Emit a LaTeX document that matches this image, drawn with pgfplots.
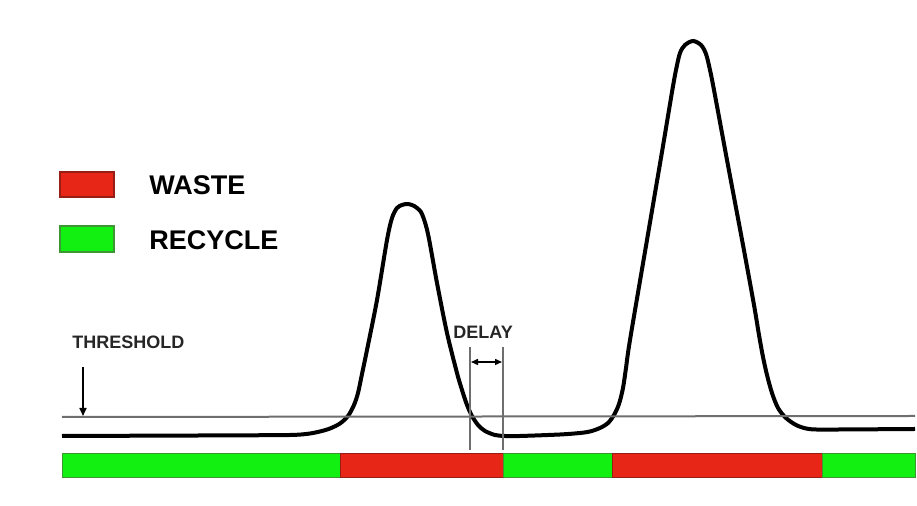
\documentclass[border=0pt]{standalone}
\usepackage{pgfplots}
\pgfplotsset{compat=1.18}
\usepackage{fontspec}
\setmainfont{Liberation Sans}
\usetikzlibrary{arrows.meta}
\definecolor{wastered}{RGB}{232,38,24}
\definecolor{wasteedge}{RGB}{150,30,20}
\definecolor{recgreen}{RGB}{18,240,18}
\definecolor{recedge}{RGB}{60,150,50}
\definecolor{thr}{RGB}{110,110,110}
\begin{document}
\begin{tikzpicture}
\begin{axis}[
  scale only axis,
  width=458.5pt, height=253pt,
  xmin=0, xmax=917, ymin=0, ymax=506,
  y dir=reverse,
  hide axis,
  clip=false,
]
% keep the full frame as bounding box
\path (rel axis cs:0,0) rectangle (rel axis cs:1,1);

% detector signal
\addplot[line width=2pt, smooth, tension=0.5] coordinates {
  (62,436) (200,435.5) (270,435.2) (290,435) (300,434.6) (310,433.5)
  (320,431.5) (330,428.5) (340,423.5) (348,416) (354,405) (358,393)
  (362,374) (367,350) (377,300) (387,240) (392,218) (397,208) (402,205)
  (407,204) (412,205) (417,208) (422,214) (428,234) (437,283) (447,333)
  (457,373) (462,390) (467,405) (472,416) (478,425) (485,431) (495,435)
  (505,436) (520,436) (560,434.5) (580,433) (590,431.5) (600,428)
  (608,423) (614,415) (619,404) (623,388) (626,368) (630,340) (647,240)
  (663,146) (672,92) (676,70) (680,53) (685,45) (693,41) (701,45)
  (706,54) (710,70) (714,90) (727,160) (743,245) (754,305) (759,335)
  (763,357) (767,375) (772,393) (778,408) (786,418) (796,425) (806,428.5)
  (816,429.5) (840,429.5) (915,429)
};

% threshold line
\addplot[line width=1pt, thr] coordinates {(62,417) (915,416)};
\addplot[line width=0.8pt, black, -{Triangle[length=4pt,width=3.5pt]}] coordinates {(83,367) (83,416)};

% delay markers
\addplot[line width=0.6pt, thr] coordinates {(470,347) (470,450)};
\addplot[line width=0.6pt, thr] coordinates {(503,347) (503,450)};
\addplot[line width=0.7pt, black, {Triangle[length=3.5pt,width=3pt]}-{Triangle[length=3.5pt,width=3pt]}] coordinates {(471,362) (502,362)};

% valve state bar
\addplot[fill=recgreen, draw=recedge, line width=0.4pt] coordinates {(62,453) (340,453) (340,477) (62,477)} -- cycle;
\addplot[fill=wastered, draw=wasteedge, line width=0.4pt] coordinates {(340,453) (503,453) (503,477) (340,477)} -- cycle;
\addplot[fill=recgreen, draw=recedge, line width=0.4pt] coordinates {(503,453) (612,453) (612,477) (503,477)} -- cycle;
\addplot[fill=wastered, draw=wasteedge, line width=0.4pt] coordinates {(612,453) (822,453) (822,477) (612,477)} -- cycle;
\addplot[fill=recgreen, draw=recedge, line width=0.4pt] coordinates {(822,453) (915,453) (915,477) (822,477)} -- cycle;

% legend
\addplot[fill=wastered, draw=wasteedge, line width=0.8pt] coordinates {(60,172) (114,172) (114,197) (60,197)} -- cycle;
\addplot[fill=recgreen, draw=recedge, line width=0.8pt] coordinates {(60,226) (114,226) (114,252) (60,252)} -- cycle;

\node[anchor=west, inner sep=0pt, font=\fontsize{13.5}{15}\selectfont\bfseries] at (axis cs:149,185) {WASTE};
\node[anchor=west, inner sep=0pt, font=\fontsize{13.5}{15}\selectfont\bfseries] at (axis cs:149,240) {RECYCLE};
\node[anchor=west, inner sep=0pt, font=\fontsize{9}{10}\selectfont\bfseries, text=black!85] at (axis cs:72,342) {THRESHOLD};
\node[anchor=west, inner sep=0pt, font=\fontsize{9}{10}\selectfont\bfseries, text=black!85] at (axis cs:453,332) {DELAY};
\end{axis}
\end{tikzpicture}
\end{document}
